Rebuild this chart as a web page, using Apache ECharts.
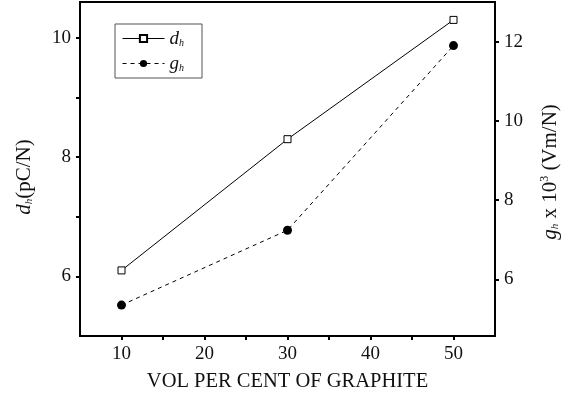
<!DOCTYPE html>
<html>
<head>
<meta charset="utf-8">
<script src="https://cdn.jsdelivr.net/npm/echarts@6/dist/echarts.min.js"></script>
<style>
  html, body { margin: 0; padding: 0; background: #fff; }
  #chart { width: 572px; height: 400px; }
</style>
</head>
<body>
<div id="chart"></div>
<script>
// data
const volPercent = [10, 30, 50];
const dhValues = [6.1, 8.3, 10.3];     // d_h (pC/N), left axis
const ghValues = [5.35, 7.24, 11.9];   // g_h x 10^3 (Vm/N), right axis
const xTicks = [10, 15, 20, 25, 30, 35, 40, 45, 50];
const xLabels = [10, 20, 30, 40, 50];
const leftTicks = [6, 7, 8, 9, 10];
const leftLabels = [6, 8, 10];
const rightTicks = [6, 8, 10, 12];

const font = 'Liberation Serif';
const ink = '#111';

var chart = echarts.init(document.getElementById('chart'));

var axisCommon = {
  axisLine: { show: true, onZero: false, lineStyle: { color: '#000', width: 2 } },
  axisTick: { show: true, inside: false, length: 4, lineStyle: { color: '#000', width: 2 } },
  splitLine: { show: false },
  axisLabel: { color: ink, fontFamily: font, fontSize: 19, margin: 9 }
};

var subRich = {
  i: { fontFamily: font, fontStyle: 'italic', fontSize: 19, color: ink },
  s: { fontFamily: font, fontStyle: 'italic', fontSize: 10, color: ink, padding: [9, 0, 0, 0] },
  t: { fontFamily: font, fontSize: 19, color: ink },
  p: { fontFamily: font, fontSize: 11, color: ink, padding: [0, 0, 9, 0] }
};

var nameRich = {
  i: { fontFamily: font, fontStyle: 'italic', fontSize: 21, color: ink },
  s: { fontFamily: font, fontStyle: 'italic', fontSize: 11, color: ink, padding: [10, 0, 0, 0] },
  t: { fontFamily: font, fontSize: 21, color: ink },
  p: { fontFamily: font, fontSize: 12, color: ink, padding: [0, 0, 10, 0] }
};

var option = {
  backgroundColor: '#fff',
  animation: false,
  grid: {
    left: 80, right: 77, top: 2, bottom: 64,
    show: true, borderColor: '#000', borderWidth: 2
  },
  legend: {
    left: 115, top: 24,
    orient: 'vertical',
    padding: [5, 18, 5, 7],
    itemWidth: 42, itemHeight: 9,
    itemGap: 6,
    borderColor: '#555', borderWidth: 1,
    lineStyle: { width: 1 },
    data: ['dh', 'gh'],
    formatter: function (name) {
      return '{i|' + name.charAt(0) + '}{s|' + name.charAt(1) + '}';
    },
    textStyle: { rich: subRich }
  },
  xAxis: Object.assign({}, axisCommon, {
    type: 'value',
    min: 5, max: 55,
    axisTick: Object.assign({}, axisCommon.axisTick, { customValues: xTicks }),
    axisLabel: Object.assign({}, axisCommon.axisLabel, { customValues: xLabels }),
    name: 'VOL PER CENT OF GRAPHITE',
    nameLocation: 'middle',
    nameGap: 35,
    nameTextStyle: { fontFamily: font, fontSize: 20.5, color: ink }
  }),
  yAxis: [
    Object.assign({}, axisCommon, {
      type: 'value',
      position: 'left',
      min: 5, max: 10.6,
      axisTick: Object.assign({}, axisCommon.axisTick, { customValues: leftTicks }),
      axisLabel: Object.assign({}, axisCommon.axisLabel, { customValues: leftLabels }),
      name: '{i|d}{s|h}{t|(pC/N)}',
      nameLocation: 'middle',
      nameRotate: 90,
      nameGap: 45,
      nameTextStyle: { rich: nameRich, padding: [0, 16, 0, 0] }
    }),
    Object.assign({}, axisCommon, {
      type: 'value',
      position: 'right',
      min: 4.57, max: 13,
      axisTick: Object.assign({}, axisCommon.axisTick, { customValues: rightTicks }),
      axisLabel: Object.assign({}, axisCommon.axisLabel, { customValues: rightTicks }),
      name: '{i|g}{s|h}{t| x 10}{p|3}{t| (Vm/N)}',
      nameLocation: 'middle',
      nameRotate: 90,
      nameGap: 44,
      nameTextStyle: { rich: nameRich, padding: [0, 6, 0, 0] }
    })
  ],
  series: [
    {
      name: 'dh',
      type: 'line',
      yAxisIndex: 0,
      data: volPercent.map((v, i) => [v, dhValues[i]]),
      symbol: 'rect',
      symbolSize: 7,
      itemStyle: { color: '#fff', borderColor: '#000', borderWidth: 1 },
      lineStyle: { color: '#000', width: 1 }
    },
    {
      name: 'gh',
      type: 'line',
      yAxisIndex: 1,
      data: volPercent.map((v, i) => [v, ghValues[i]]),
      symbol: 'circle',
      symbolSize: 9,
      itemStyle: { color: '#000', borderColor: '#000', borderWidth: 0 },
      lineStyle: { color: '#000', width: 1, type: [4, 4] }
    }
  ]
};

chart.setOption(option);
</script>
</body>
</html>
